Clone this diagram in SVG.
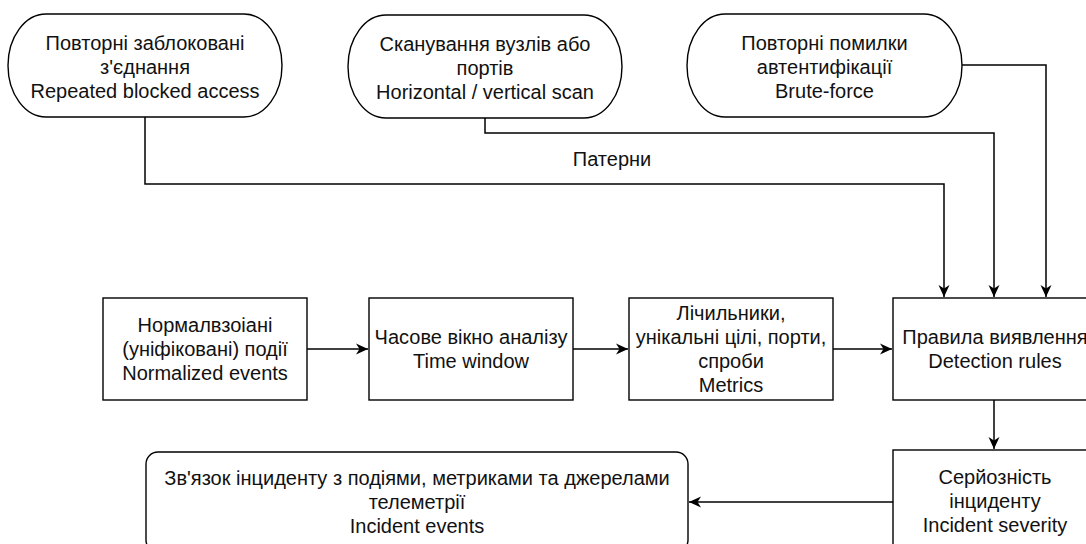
<svg xmlns="http://www.w3.org/2000/svg" width="1086" height="544" viewBox="0 0 1086 544">
  <style>
    .shape { fill: #ffffff; stroke: #000000; stroke-width: 1.4; }
    .edge { fill: none; stroke: #000000; stroke-width: 1.5; }
    .lbl { font-family: "Liberation Sans", Arial, sans-serif; font-size: 20px; fill: #111111; text-anchor: middle; }
  </style>
  <defs>
    <marker id="arrow" markerUnits="userSpaceOnUse" markerWidth="14" markerHeight="12" refX="12" refY="6" orient="auto">
      <path d="M0,0.5 L12,6 L0,11.5 L3.5,6 Z" fill="#000000"/>
    </marker>
  </defs>

  <!-- connectors -->
  <g id="connectors">
    <path class="edge" d="M145,117 V184 H944 V297" marker-end="url(#arrow)"/>
    <path class="edge" d="M485,118 V133 H994 V297" marker-end="url(#arrow)"/>
    <path class="edge" d="M962,65 H1046 V297" marker-end="url(#arrow)"/>
    <path class="edge" d="M307,349 H368" marker-end="url(#arrow)"/>
    <path class="edge" d="M573,349 H628" marker-end="url(#arrow)"/>
    <path class="edge" d="M833,349 H892" marker-end="url(#arrow)"/>
    <path class="edge" d="M994,400 V449" marker-end="url(#arrow)"/>
    <path class="edge" d="M893,502 H689" marker-end="url(#arrow)"/>
    <text class="lbl" x="612" y="166">Патерни</text>
  </g>

  <!-- pattern sources -->
  <g id="blocked-access">
    <rect class="shape" x="8" y="14" width="274" height="103" rx="38" ry="51.5"/>
    <text class="lbl" x="145" y="50">Повторні заблоковані</text>
    <text class="lbl" x="145" y="74">з'єднання</text>
    <text class="lbl" x="145" y="98">Repeated blocked access</text>
  </g>
  <g id="scan">
    <rect class="shape" x="348" y="15" width="274" height="103" rx="38" ry="51.5"/>
    <text class="lbl" x="485" y="51">Сканування вузлів або</text>
    <text class="lbl" x="485" y="75">портів</text>
    <text class="lbl" x="485" y="99">Horizontal / vertical scan</text>
  </g>
  <g id="brute-force">
    <rect class="shape" x="687" y="14" width="275" height="103" rx="38" ry="51.5"/>
    <text class="lbl" x="824.5" y="50">Повторні помилки</text>
    <text class="lbl" x="824.5" y="74">автентифікації</text>
    <text class="lbl" x="824.5" y="98">Brute-force</text>
  </g>

  <!-- processing pipeline -->
  <g id="normalized-events">
    <rect class="shape" x="103" y="298" width="204" height="102"/>
    <text class="lbl" x="205" y="332">Нормалвзоіані</text>
    <text class="lbl" x="205" y="356">(уніфіковані) події</text>
    <text class="lbl" x="205" y="380">Normalized events</text>
  </g>
  <g id="time-window">
    <rect class="shape" x="369" y="298" width="204" height="102"/>
    <text class="lbl" x="471" y="344">Часове вікно аналізу</text>
    <text class="lbl" x="471" y="368">Time window</text>
  </g>
  <g id="metrics">
    <rect class="shape" x="629" y="298" width="204" height="102"/>
    <text class="lbl" x="731" y="320">Лічильники,</text>
    <text class="lbl" x="731" y="344">унікальні цілі, порти,</text>
    <text class="lbl" x="731" y="368">спроби</text>
    <text class="lbl" x="731" y="392">Metrics</text>
  </g>
  <g id="detection-rules">
    <rect class="shape" x="893" y="298" width="204" height="102"/>
    <text class="lbl" x="995" y="344">Правила виявлення</text>
    <text class="lbl" x="995" y="368">Detection rules</text>
  </g>
  <g id="incident-severity">
    <rect class="shape" x="893" y="450" width="204" height="102"/>
    <text class="lbl" x="995" y="484">Серйозність</text>
    <text class="lbl" x="995" y="508">інциденту</text>
    <text class="lbl" x="995" y="532">Incident severity</text>
  </g>
  <g id="incident-events">
    <rect class="shape" x="146" y="452" width="542" height="100" rx="12" ry="12"/>
    <text class="lbl" x="417" y="485">Зв'язок інциденту з подіями, метриками та джерелами</text>
    <text class="lbl" x="417" y="509">телеметрії</text>
    <text class="lbl" x="417" y="533">Incident events</text>
  </g>
</svg>
